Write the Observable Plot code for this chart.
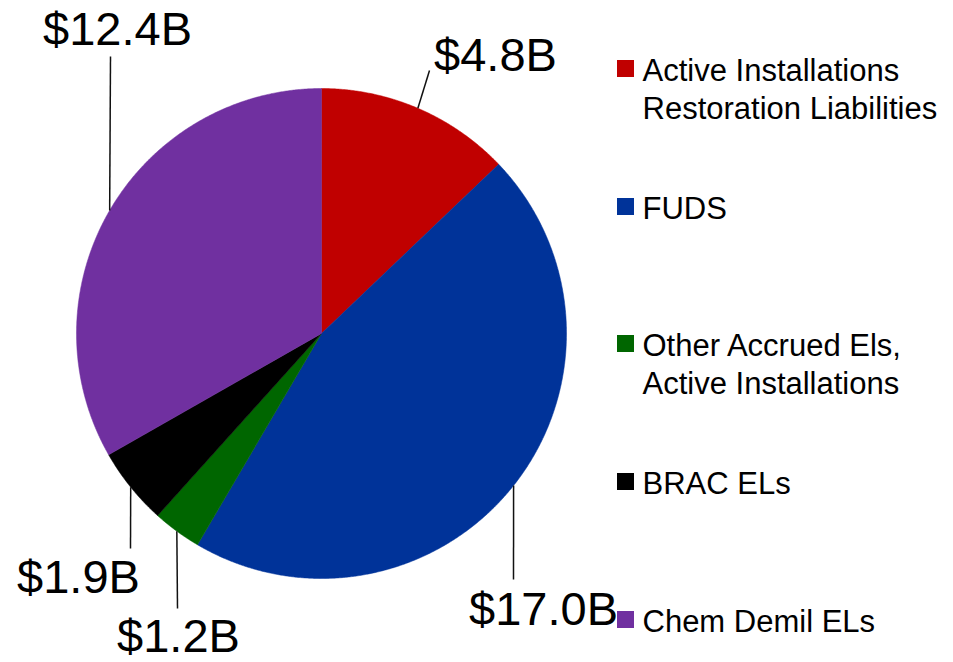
<!DOCTYPE html>
<html><head><meta charset="utf-8">
<script src="https://cdn.jsdelivr.net/npm/d3@7"></script>
<script src="https://cdn.jsdelivr.net/npm/@observablehq/plot@0.6"></script>
<style>
html,body{margin:0;padding:0;background:#fff;}
#chart svg{display:block;}
</style>
</head><body><div id="chart"></div>
<script>
// ---- data ----
const categories = ["Active Installations\nRestoration Liabilities", "FUDS", "Other Accrued Els,\nActive Installations", "BRAC ELs", "Chem Demil ELs"];
const values = [4.8, 17.0, 1.2, 1.9, 12.4];
const valueLabels = ["$4.8B", "$17.0B", "$1.2B", "$1.9B", "$12.4B"];
const colors = ["#C00000", "#003399", "#006600", "#000000", "#7030A0"];

// ---- layout (pixels) ----
const W = 953, H = 662;
const cx = 321, cy = 333, R = 245;
const leaderEnds = [[429, 70], [513, 579], [177, 608], [130, 548], [110, 56]];
const labelPos = [[495, 70], [543, 624], [178, 651], [78, 592], [117, 44]];
const legendBaselines = [79, 217, 354, 492, 630];
const legendX = 617, legendSize = 17, legendTextX = 642;
const font = "Liberation Sans, Arial, sans-serif";
const bigFont = 47, legFont = 31;

const arcs = d3.pie().sort(null).value(d => d)(values);
const pt = (a, r) => ({x: cx + r * Math.sin(a), y: cy - r * Math.cos(a)});

const sliceMarks = arcs.map((a, i) => {
  const pts = [pt(0, 0)];
  const n = Math.max(2, Math.ceil((a.endAngle - a.startAngle) / 0.005));
  for (let k = 0; k <= n; k++) pts.push(pt(a.startAngle + (a.endAngle - a.startAngle) * k / n, R));
  pts.push(pt(0, 0));
  return Plot.line(pts, {x: "x", y: "y", fill: colors[i], stroke: colors[i], strokeWidth: 0.5, curve: "linear"});
});

const leaders = arcs.map((a, i) => {
  const m = pt((a.startAngle + a.endAngle) / 2, R);
  return {x1: m.x, y1: m.y, x2: leaderEnds[i][0], y2: leaderEnds[i][1]};
});
const labels = arcs.map((a, i) => ({x: labelPos[i][0], y: labelPos[i][1], text: valueLabels[i]}));
const legend = categories.map((c, i) => ({name: c, color: colors[i], base: legendBaselines[i]}));

const chart = Plot.plot({
  width: W, height: H, margin: 0,
  style: {fontFamily: font, background: "#fff"},
  x: {domain: [0, W], range: [0, W], axis: null},
  y: {domain: [0, H], range: [0, H], axis: null},
  marks: [
    ...sliceMarks,
    Plot.link(leaders, {x1: "x1", y1: "y1", x2: "x2", y2: "y2", stroke: "#111", strokeWidth: 1.5}),
    Plot.text(labels, {x: "x", y: "y", text: "text", fontSize: bigFont, textAnchor: "middle", lineAnchor: "bottom", fill: "#000", fontFamily: font}),
    Plot.rect(legend, {x1: () => legendX, x2: () => legendX + legendSize, y1: d => d.base - 19, y2: d => d.base - 19 + legendSize, fill: d => d.color}),
    Plot.text(legend, {x: () => legendTextX, y: d => d.base - 3 - 0.71 * legFont, text: "name", fontSize: legFont, textAnchor: "start", lineAnchor: "top", lineHeight: 38 / legFont, fill: "#000", fontFamily: font})
  ]
});
document.getElementById("chart").appendChild(chart);
</script>
</body></html>
